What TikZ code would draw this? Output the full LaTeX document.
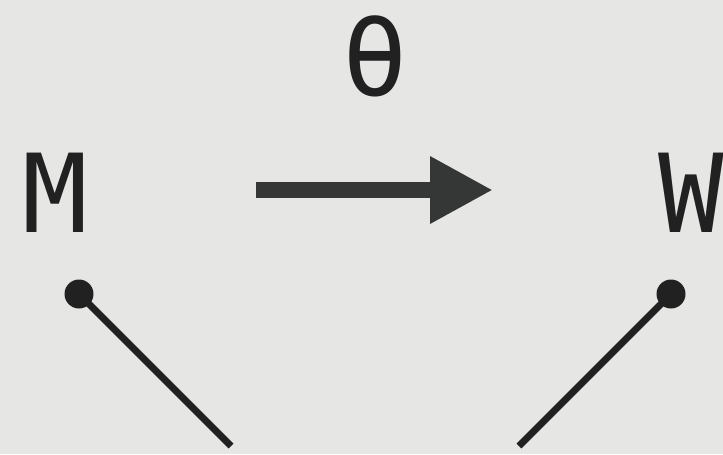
\documentclass[tikz,border=0pt]{standalone}
\usepackage{fontspec}
\usetikzlibrary{arrows.meta, positioning}
\newfontfamily\labelfont{DejaVu Sans Mono}
\definecolor{bgcol}{HTML}{E6E7E4}
\definecolor{inkcol}{HTML}{212121}
\definecolor{arrcol}{HTML}{353736}
\tikzset{
  letter/.style = {
    inner sep=0pt, text=inkcol,
    font=\labelfont\fontsize{62}{62}\selectfont
  },
  bigarrow/.style = {
    -{Triangle[length=1.26cm, width=1.26cm]}, draw=arrcol, fill=arrcol,
    line width=9pt
  },
  pin/.style = {
    circle, fill=inkcol, inner sep=0pt, minimum size=0.58cm
  },
  stick/.style = {draw=inkcol, line width=4pt}
}

\begin{document}
\begin{tikzpicture}[x=0.02cm, y=-0.02cm]

  \fill[bgcol] (0,0) rectangle (723,454);
  \useasboundingbox (0,0) rectangle (723,454);

  \node[letter] (m)     at (55,193)  {M};
  \node[letter] (w)     at (691,193) {W};
  \node[letter] (theta) at (375,56)  {θ};

  \coordinate (arrS) at (256,190);
  \coordinate (arrE) at (493,190);
  \draw[bigarrow] (arrS) -- (arrE);

  % Stiele mit Punkt
  \node[pin] (pinL) at (79,294)  {};
  \node[pin] (pinR) at (671,294) {};
  \coordinate (footL) at (231,446);
  \coordinate (footR) at (519,446);
  \draw[stick] (pinL.center) -- (footL);
  \draw[stick] (pinR.center) -- (footR);

\end{tikzpicture}
\end{document}
